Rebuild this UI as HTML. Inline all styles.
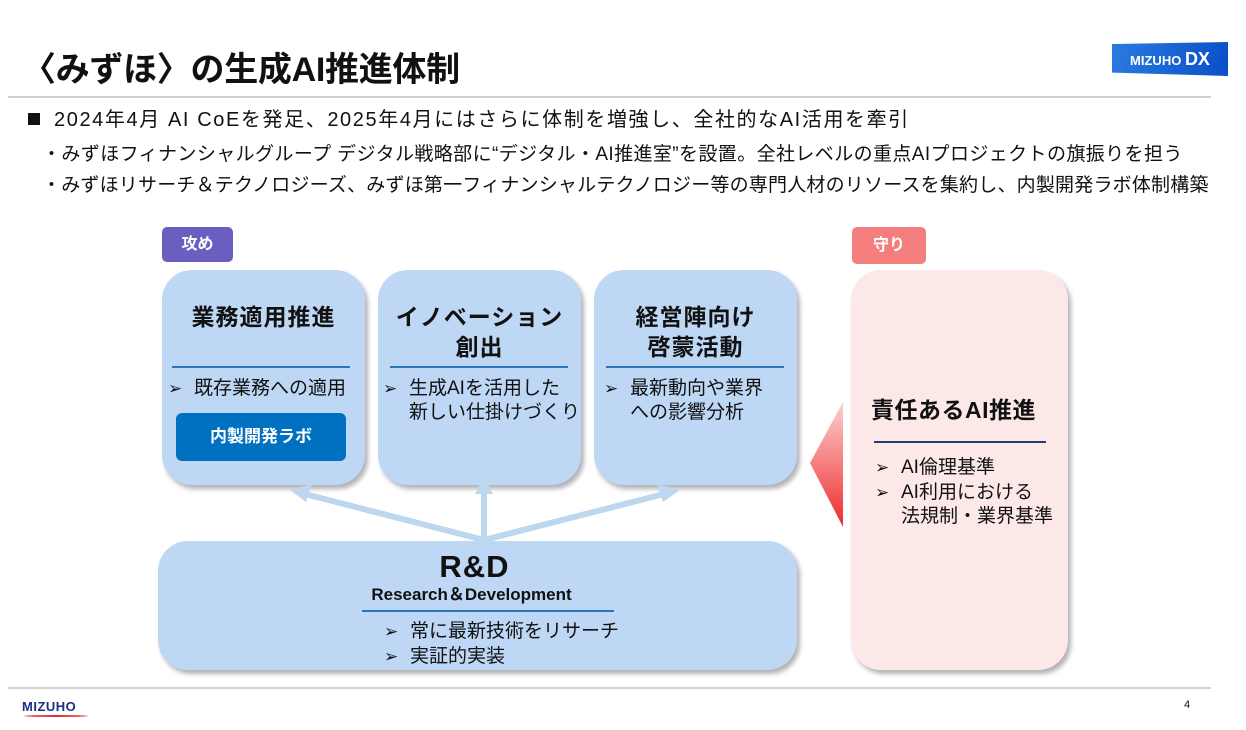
<!DOCTYPE html>
<html><head><meta charset="utf-8"><style>
body{margin:0;width:1246px;height:730px;background:#fff;position:relative;overflow:hidden;font-family:"Liberation Sans","Noto Sans CJK JP",sans-serif;color:#111}
.a{position:absolute}
.box{position:absolute;background:#bdd7f5;border-radius:30px;box-shadow:3px 4px 5px rgba(0,0,0,0.3)}
.t{position:absolute;left:0;right:0;text-align:center;font-weight:bold;font-size:23px;line-height:30px;letter-spacing:1px}
.hr{position:absolute;height:2px;background:#2e75b6}
.b{position:absolute;font-size:19px;line-height:24px;white-space:nowrap}
.ar{display:inline-block;width:26px;font-size:17px}
.in{display:inline-block;width:26px}
</style></head><body>
<div class="a" style="left:22px;top:46px;font-size:34px;font-weight:bold;line-height:48px;letter-spacing:-0.3px">〈みずほ〉の生成AI推進体制</div>
<div class="a" style="left:1112px;top:42px;width:116px;height:34px;background:linear-gradient(100deg,#2a7be0,#0a4fc8);clip-path:polygon(0 6%,100% 0,100% 100%,0 90%);color:#fff;font-weight:bold;font-size:13px;line-height:34px;text-align:center">MIZUHO <span style="font-size:18px">DX</span></div>
<div class="a" style="left:8px;top:96px;width:1203px;height:2px;background:#cfcfcf"></div>
<div class="a" style="left:28px;top:107px;font-size:20px;line-height:26px;white-space:nowrap;letter-spacing:1.6px"><span style="display:inline-block;width:12px;height:12px;background:#111;margin-right:14px;vertical-align:1px"></span>2024年4月 AI CoEを発足、2025年4月にはさらに体制を増強し、全社的なAI活用を牽引</div>
<div class="a" style="left:42px;top:142px;font-size:19px;line-height:26px;white-space:nowrap;letter-spacing:0.4px">・みずほフィナンシャルグループ デジタル戦略部に“デジタル・AI推進室”を設置。全社レベルの重点AIプロジェクトの旗振りを担う</div>
<div class="a" style="left:42px;top:173px;font-size:19px;line-height:26px;white-space:nowrap;letter-spacing:0.2px">・みずほリサーチ＆テクノロジーズ、みずほ第一フィナンシャルテクノロジー等の専門人材のリソースを集約し、内製開発ラボ体制構築</div>

<div class="a" style="left:162px;top:227px;width:71px;height:35px;background:#6a5fc1;border-radius:5px;color:#fff;font-weight:bold;font-size:16px;line-height:35px;text-align:center">攻め</div>
<div class="a" style="left:852px;top:227px;width:74px;height:37px;background:#f47d7d;border-radius:5px;color:#fff;font-weight:bold;font-size:16px;line-height:37px;text-align:center">守り</div>

<div class="box" style="left:162px;top:270px;width:203px;height:215px">
<div class="t" style="top:32px">業務適用推進</div>
<div class="hr" style="left:10px;width:178px;top:96px"></div>
<div class="b" style="left:6px;top:107px"><span class="ar">➢</span>既存業務への適用</div>
<div class="a" style="left:14px;top:143px;width:170px;height:48px;background:#0070c0;border-radius:6px;color:#fff;font-weight:bold;font-size:17px;line-height:48px;text-align:center">内製開発ラボ</div>
</div>
<div class="box" style="left:378px;top:270px;width:203px;height:215px">
<div class="t" style="top:32px">イノベーション<br>創出</div>
<div class="hr" style="left:12px;width:178px;top:96px"></div>
<div class="b" style="left:5px;top:107px"><span class="ar">➢</span>生成AIを活用した<br><span class="in"></span>新しい仕掛けづくり</div>
</div>
<div class="box" style="left:594px;top:270px;width:203px;height:215px">
<div class="t" style="top:32px">経営陣向け<br>啓蒙活動</div>
<div class="hr" style="left:12px;width:178px;top:96px"></div>
<div class="b" style="left:10px;top:107px"><span class="ar">➢</span>最新動向や業界<br><span class="in"></span>への影響分析</div>
</div>

<svg class="a" style="left:0;top:0" width="1246" height="730">
<defs><linearGradient id="g" x1="0" y1="0" x2="0" y2="1"><stop offset="0" stop-color="#fbd0d0"/><stop offset="1" stop-color="#ee2b2b"/></linearGradient></defs>
<g stroke="#bdd7ee" stroke-width="6" fill="none"><line x1="484" y1="540" x2="305" y2="494"/><line x1="484" y1="540" x2="484" y2="492"/><line x1="484" y1="540" x2="664" y2="494"/></g>
<g fill="#bdd7ee"><polygon points="290,490 312,484 306,502"/><polygon points="484,477 493,494 475,494"/><polygon points="680,490 657,484 663,502"/></g>
<polygon points="843,402 810,463 843,527" fill="url(#g)"/>
</svg>

<div class="box" style="left:158px;top:541px;width:639px;height:129px">
<div class="a" style="left:0;right:0;top:8px;text-align:center;font-weight:bold;font-size:31px;line-height:36px;padding-right:6px;letter-spacing:1px">R&amp;D</div>
<div class="a" style="left:0;right:0;top:43px;text-align:center;font-weight:bold;font-size:17px;line-height:22px;padding-right:12px">Research＆Development</div>
<div class="hr" style="left:204px;width:252px;top:69px;background:#2e75b6"></div>
<div class="b" style="left:226px;top:78px;line-height:25px"><span class="ar">➢</span>常に最新技術をリサーチ<br><span class="ar">➢</span>実証的実装</div>
</div>

<div class="box" style="left:851px;top:270px;width:217px;height:400px;background:#fde8e8">
<div class="a" style="left:20px;top:125px;font-weight:bold;font-size:23px;line-height:30px;white-space:nowrap;letter-spacing:0.5px">責任あるAI推進</div>
<div class="hr" style="left:23px;width:172px;top:171px;background:#1f3b78"></div>
<div class="b" style="left:24px;top:186px;line-height:24.5px"><span class="ar">➢</span>AI倫理基準<br><span class="ar">➢</span>AI利用における<br><span class="in"></span>法規制・業界基準</div>
</div>

<div class="a" style="left:8px;top:687px;width:1203px;height:2px;background:#d4d4d4"></div>
<div class="a" style="left:22px;top:699px;font-weight:bold;font-size:13px;color:#1b2f86;letter-spacing:0.5px;line-height:16px">MIZUHO</div>
<div class="a" style="left:24px;top:715px;width:64px;height:2px;background:#d33;border-radius:50%"></div>
<div class="a" style="left:1184px;top:699px;font-size:11px">4</div>
</body></html>
